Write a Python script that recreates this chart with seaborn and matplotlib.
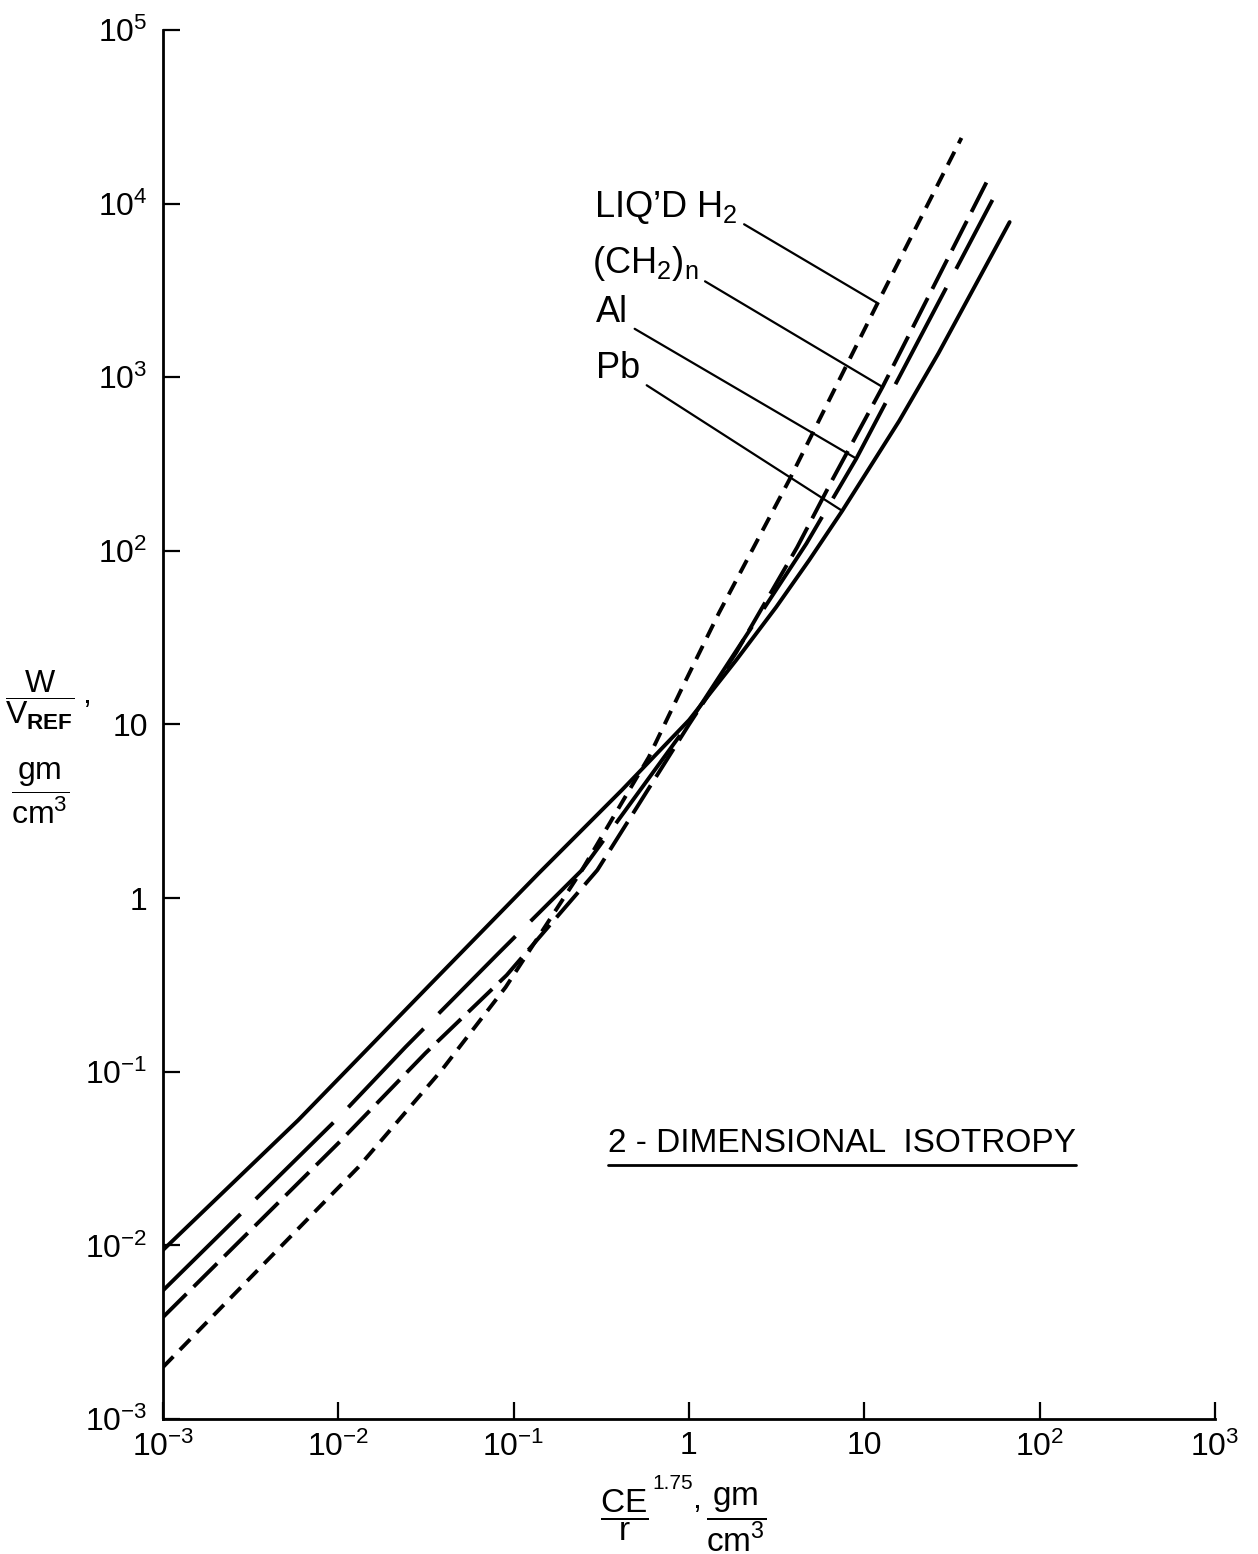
"""
Скан-график: W/V_REF от CE^1.75/r, двумерная изотропия.
"""

import matplotlib
matplotlib.use("Agg")
import matplotlib.pyplot as plt
from matplotlib.lines import Line2D
import seaborn as sns
import pandas as pd

# Кривые (лог-лог)
pb_x = [0.001, 0.0059, 0.034, 0.139, 0.414, 1.0, 1.86, 3.14, 4.85, 7.48,
        15.8, 26.5, 67.4]
pb_y = [0.0094, 0.0526, 0.324, 1.39, 4.19, 10.6, 23.5, 47.4, 88.5, 170,
        560, 1377, 7830]

al_x = [0.001, 0.0103, 0.0242, 0.082, 0.245, 1.0, 1.86, 4.67, 9.0, 53.8]
al_y = [0.0055, 0.056, 0.139, 0.482, 1.45, 10.2, 26.6, 110, 340, 10500]

ch2_x = [0.001, 0.01, 0.0314, 0.0912, 0.3, 1.0, 1.86, 4.14, 6.56, 12.7, 49.8]
ch2_y = [0.00386, 0.0388, 0.128, 0.36, 1.45, 10.0, 26, 105, 256, 879, 13300]

h2_x = [0.001, 0.013, 0.0388, 0.090, 0.245, 0.59, 0.912, 1.48, 3.73, 11.9,
        35.8]
h2_y = [0.00199, 0.0282, 0.102, 0.307, 1.45, 6.49, 16.2, 43.8, 256, 2670,
        23900]

materials = ["Pb", "Al", "(CH2)n", "LIQ'D H2"]
material_labels = ["Pb", "Al", r"(CH$_2$)$_\mathrm{n}$", "LIQ’D H$_2$"]

x_ticks = [1e-3, 1e-2, 1e-1, 1, 10, 1e2, 1e3]
x_tick_labels = [r"$10^{-3}$", r"$10^{-2}$", r"$10^{-1}$", "1", "10",
                 r"$10^{2}$", r"$10^{3}$"]
y_ticks = [1e-3, 1e-2, 1e-1, 1, 10, 1e2, 1e3, 1e4, 1e5]
y_tick_labels = [r"$10^{-3}$", r"$10^{-2}$", r"$10^{-1}$", "1", "10",
                 r"$10^{2}$", r"$10^{3}$", r"$10^{4}$", r"$10^{5}$"]

sns.set_style("ticks")
plt.rcParams["font.family"] = ["Liberation Sans", "DejaVu Sans"]
plt.rcParams["mathtext.fontset"] = "custom"
plt.rcParams["mathtext.rm"] = "Liberation Sans"
plt.rcParams["mathtext.it"] = "Liberation Sans:italic"
plt.rcParams["mathtext.bf"] = "Liberation Sans:bold"
for key in ["text.color", "axes.labelcolor", "xtick.color", "ytick.color",
            "axes.edgecolor"]:
    plt.rcParams[key] = "black"

frames = []
for name, xs, ys in zip(materials, [pb_x, al_x, ch2_x, h2_x],
                        [pb_y, al_y, ch2_y, h2_y]):
    frames.append(pd.DataFrame({"x": xs, "y": ys, "material": name}))
df = pd.concat(frames, ignore_index=True)

W, H = 1258, 1554
fig = plt.figure(figsize=(W / 100, H / 100), dpi=100)
ax = fig.add_axes([163 / W, 1 - 1419 / H, (1215 - 163) / W, (1419 - 30) / H])
ax.set_xscale("log")
ax.set_yscale("log")

sns.lineplot(data=df, x="x", y="y", style="material", style_order=materials,
             dashes={"Pb": "", "Al": (28, 5.5), "(CH2)n": (8.5, 2.6),
                     "LIQ'D H2": (3.8, 2.4)},
             color="black", linewidth=2.8, estimator=None, sort=False,
             legend=False, ax=ax)

ax.set_xlim(1e-3, 1e3)
ax.set_ylim(1e-3, 1e5)
ax.set_xticks(x_ticks)
ax.set_xticklabels(x_tick_labels)
ax.set_yticks(y_ticks)
ax.set_yticklabels(y_tick_labels)
ax.minorticks_off()
ax.tick_params(direction="in", length=12, width=1.6, labelsize=23,
               colors="black")
ax.tick_params(axis="x", pad=9)
ax.tick_params(axis="y", pad=11)
ax.set_xlabel("")
ax.set_ylabel("")
for side in ["top", "right"]:
    ax.spines[side].set_visible(False)
for side in ["left", "bottom"]:
    ax.spines[side].set_linewidth(2)

# Подписи с выносками к кривым
leaders = [
    (material_labels[3], h2_x[9], h2_y[9], 0.286, 8.4e3),
    (material_labels[2], ch2_x[9], ch2_y[9], 0.279, 3.98e3),
    (material_labels[1], al_x[8], al_y[8], 0.294, 2.08e3),
    (material_labels[0], pb_x[9], pb_y[9], 0.294, 988),
]
for text, xt, yt, tx, ty in leaders:
    ax.annotate(text, xy=(xt, yt), xytext=(tx, ty), textcoords="data",
                fontsize=26, ha="left", va="baseline", color="black",
                arrowprops=dict(arrowstyle="-", lw=1.6, color="black",
                                relpos=(1.0, 0.15), shrinkA=3, shrinkB=0))

iso = ax.text(0.423, 0.192, "2 - DIMENSIONAL  ISOTROPY",
              transform=ax.transAxes, fontsize=24, va="baseline")


def px(x, y):
    return x / W, 1 - y / H


# Подпись оси Y
fig.text(*px(40, 700), r"$\dfrac{\mathrm{W}}{\mathrm{V}_{\mathbf{REF}}}$",
         ha="center", va="center", fontsize=23)
fig.text(*px(82, 703), ",", ha="left", va="baseline", fontsize=23)
fig.text(*px(40, 793), r"$\dfrac{\mathrm{gm}}{\mathrm{cm}^{3}}$",
         ha="center", va="center", fontsize=23)

# Подпись оси X
fig.text(*px(624, 1515), r"$\dfrac{\mathrm{CE}}{\mathrm{r}}$",
         ha="center", va="center", fontsize=24)
fig.text(*px(652, 1489), "1.75", ha="left", va="baseline", fontsize=15)
fig.text(*px(692, 1508), ",", ha="left", va="baseline", fontsize=23)
fig.text(*px(736, 1520), r"$\dfrac{\mathrm{gm}}{\mathrm{cm}^{3}}$",
         ha="center", va="center", fontsize=24)

# Подчёркивание надписи
fig.canvas.draw()
bb = iso.get_window_extent()
inv = fig.transFigure.inverted()
(ux0, uy), (ux1, _) = inv.transform([(bb.x0, bb.y0 - 6), (bb.x1, bb.y0 - 6)])
fig.add_artist(Line2D([ux0, ux1], [uy, uy], color="black", lw=2))

fig.savefig("out.png", dpi=100)
